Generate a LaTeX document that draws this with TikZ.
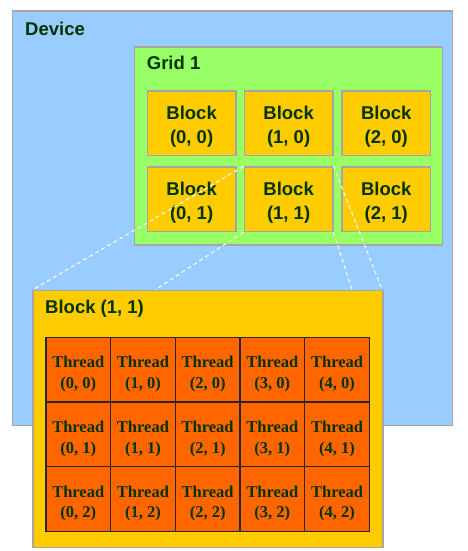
\documentclass[tikz,border=0pt]{standalone}
\usepackage{fontspec}
\setmainfont{Liberation Serif}
\setsansfont{Liberation Sans}
\definecolor{devfill}{HTML}{99CCFF}
\definecolor{gridfill}{HTML}{99FF66}
\definecolor{blockfill}{HTML}{FFCC00}
\definecolor{threadfill}{HTML}{FF6600}
\definecolor{edgegray}{HTML}{A6A6A6}
\definecolor{txt}{HTML}{003300}
\begin{document}
\begin{tikzpicture}[x=1pt,y=-1pt,
  panel/.style={draw=edgegray, line width=1.3pt, anchor=north west, inner sep=0pt},
  devbox/.style={panel, fill=devfill, minimum width=440pt, minimum height=414pt},
  gridbox/.style={panel, fill=gridfill, minimum width=308pt, minimum height=198pt},
  blockbox/.style={panel, fill=blockfill, minimum width=88.5pt, minimum height=64.5pt},
  blocktext/.style={inner sep=0pt, text=txt, align=center, font=\sffamily\bfseries\fontsize{18.5}{24}\selectfont},
  bigbox/.style={panel, fill=blockfill, minimum width=350pt, minimum height=257pt},
  threadbox/.style={draw=black!85, line width=1.2pt, fill=threadfill, anchor=north west,
     inner sep=0pt, minimum width=64.7pt, minimum height=64.7pt},
  threadtext/.style={inner sep=0pt, text=txt, align=center, font=\rmfamily\bfseries\fontsize{16.5}{20.5}\selectfont},
  title/.style={anchor=base west, inner sep=0pt, text=txt, font=\sffamily\bfseries\fontsize{18.5}{22}\selectfont},
  link/.style={draw=white, line width=1pt, dash pattern=on 4pt off 3pt}
]
\useasboundingbox (0,0) rectangle (467,551);
\node[devbox] (dev) at (12,10.5) {};
\node[title] (devlabel) at (25,35.5) {Device};
\node[gridbox] (grid) at (134,46.3) {};
\node[title] (gridlabel) at (146.7,70) {Grid 1};
\foreach \i/\x in {0/146.7,1/243.7,2/341.3}{
  \foreach \j/\y in {0/90.3,1/166.3}{
    \node[blockbox] (b\i\j) at (\x,\y) {};
    \node[blocktext] (bt\i\j) at ([yshift=-3.5pt]b\i\j.center) {Block\\(\i, \j)};
  }
}
\coordinate (c1) at (155,290);
\coordinate (c2) at (352,290);
\draw[link] (b11.north west) -- (32.3,290) coordinate (bnw);
\draw[link] (b11.north east) -- (382.3,290) coordinate (bne);
\draw[link] (b11.south west) -- (c1);
\draw[link] (b11.south east) -- (c2);
\node[bigbox] (big) at (32.3,290) {};
\node[title] (biglabel) at (45,313.3) {Block (1, 1)};
\foreach \i in {0,...,4}{
  \foreach \j in {0,1,2}{
    \node[threadbox] (t\i\j) at ({45.3+64.7*\i},{336.7+64.7*\j}) {};
    \node[threadtext] (tt\i\j) at ([yshift=-4.5pt]t\i\j.center) {Thread\\(\i, \j)};
  }
}
\end{tikzpicture}
\end{document}
